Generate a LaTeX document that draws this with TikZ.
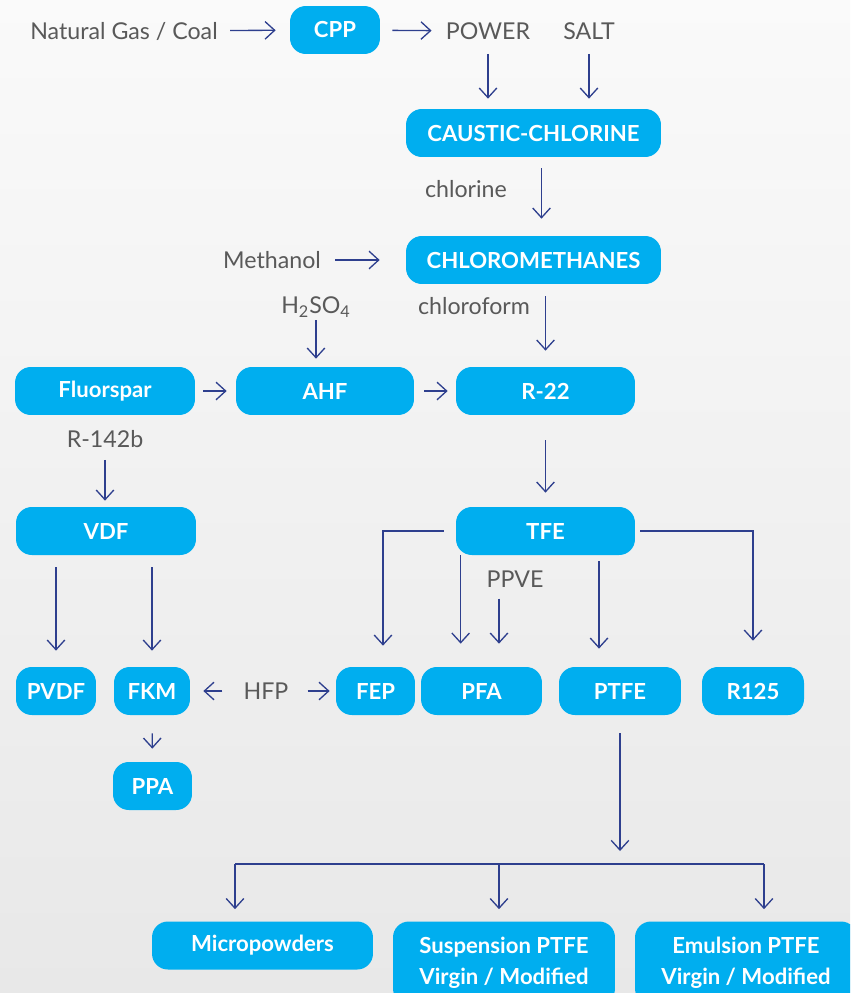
\documentclass[tikz,border=0pt]{standalone}
\usepackage{fontspec}
\setmainfont{Lato}
\usetikzlibrary{arrows.meta}
\definecolor{boxblue}{HTML}{00AEEF}
\definecolor{arrowblue}{HTML}{2E3F8E}
\definecolor{labelgray}{HTML}{595959}

\begin{document}
\begin{tikzpicture}[x=0.02cm, y=-0.02cm,
  box/.style={fill=boxblue, rounded corners=9pt, text=white, inner sep=0pt,
    minimum height=0.96cm, font=\fontsize{12.6}{17.6}\selectfont\bfseries},
  lbl/.style={text=labelgray, inner sep=0pt, font=\fontsize{13.2}{15}\selectfont},
  arr/.style={draw=arrowblue, line width=0.75pt, -{Straight Barb[length=5.5pt,width=10pt]}},
  bar/.style={draw=arrowblue, line width=0.75pt}]
\useasboundingbox (0,0) rectangle (850,993);
\clip (0,0) rectangle (850,993);
\shade[top color=black!2, bottom color=black!9] (0,0) rectangle (850,993);

\node[lbl] (nat) at (124,31) {Natural Gas / Coal};
\node[box, minimum width=1.8cm] (cpp) at (335,30) {CPP};
\node[lbl] (power) at (488,31) {POWER};
\node[lbl] (salt) at (589,31) {SALT};
\node[box, minimum width=5.1cm] (caustic) at (533.5,133) {CAUSTIC-CHLORINE};
\node[lbl] (chlorine) at (466,189) {chlorine};
\node[lbl] (methanol) at (272,260) {Methanol};
\node[box, minimum width=5.1cm] (chloro) at (533.5,260) {CHLOROMETHANES};
\node[lbl] (h2so4) at (316,307) {H\textsubscript{2}SO\textsubscript{4}};
\node[lbl] (chloroform) at (474,306) {chloroform};
\node[box, minimum width=3.6cm] (fluor) at (105,391) {Fluorspar};
\node[box, minimum width=3.56cm] (ahf) at (325,391) {AHF};
\node[box, minimum width=3.58cm] (r22) at (545.5,391) {R-22};
\node[lbl] (r142b) at (105,439) {R-142b};
\node[box, minimum width=3.6cm] (vdf) at (106,531) {VDF};
\node[box, minimum width=3.58cm] (tfe) at (545.5,531) {TFE};
\node[lbl] (ppve) at (515,579) {PPVE};
\node[box, minimum width=1.6cm] (pvdf) at (56,691) {PVDF};
\node[box, minimum width=1.52cm] (fkm) at (152,691) {FKM};
\node[lbl] (hfp) at (266,691) {HFP};
\node[box, minimum width=1.58cm] (fep) at (375.5,691) {FEP};
\node[box, minimum width=2.42cm] (pfa) at (481.5,691) {PFA};
\node[box, minimum width=2.44cm] (ptfe) at (620,691) {PTFE};
\node[box, minimum width=2.04cm] (r125) at (753,691) {R125};
\node[box, minimum width=1.58cm] (ppa) at (152.5,786) {PPA};
\node[box, minimum width=4.42cm] (micro) at (262.5,945.5) {Micropowders};
\node[box, minimum width=4.44cm, minimum height=1.66cm, align=center] (susp) at (504,963) {Suspension PTFE\\Virgin / Modified};
\node[box, minimum width=4.44cm, minimum height=1.66cm, align=center] (emul) at (746,963) {Emulsion PTFE\\Virgin / Modified};
\coordinate (split) at (620,864);
\coordinate (bl) at (235,864);
\coordinate (bm) at (499,864);
\coordinate (br) at (764,864);

\draw[arr, shorten <=0.24cm, shorten >=0.28cm] (nat) -- (cpp);
\draw[arr, shorten <=0.24cm, shorten >=0.28cm] (cpp) -- (power);
\draw[arr, shorten <=0.28cm, shorten >=0.2cm] (power) -- (power |- caustic.north);
\draw[arr, shorten <=0.28cm, shorten >=0.2cm] (salt) -- (salt |- caustic.north);
\draw[arr, shorten <=0.22cm, shorten >=0.34cm] ([xshift=0.16cm]caustic.south) -- ([xshift=0.16cm]chloro.north);
\draw[arr, shorten <=0.28cm, shorten >=0.52cm] (methanol) -- (chloro);
\draw[arr, shorten <=0.04cm, shorten >=0.16cm] (h2so4) -- (h2so4 |- ahf.north);
\draw[arr, shorten <=0.24cm, shorten >=0.32cm] (r22 |- chloro.south) -- (r22.north);
\draw[arr, shorten <=0.16cm, shorten >=0.18cm] (fluor) -- (ahf);
\draw[arr, shorten <=0.2cm, shorten >=0.16cm] (ahf) -- (r22);
\draw[arr, shorten <=0.24cm, shorten >=0.12cm] (r142b) -- (r142b |- vdf.north);
\draw[arr, shorten <=0.5cm, shorten >=0.28cm] (r22) -- (tfe);
\draw[arr, shorten <=0.24cm, shorten >=0.42cm] (tfe.west) -| ([xshift=0.15cm]fep.north);
\draw[arr, shorten >=0.46cm] ([xshift=0.1cm]tfe.south west) -- ([xshift=0.1cm]tfe.south west |- pfa.north);
\draw[arr, shorten <=0.22cm, shorten >=0.46cm] ([xshift=-0.32cm]ppve.south) -- ([xshift=-0.32cm]ppve.south |- pfa.north);
\draw[arr, shorten <=0.12cm, shorten >=0.36cm] ([xshift=-0.42cm]ptfe.north |- tfe.south) -- ([xshift=-0.42cm]ptfe.north);
\draw[arr, shorten <=0.1cm, shorten >=0.52cm] (tfe.east) -| (r125.north);
\draw[arr, shorten <=0.24cm, shorten >=0.32cm] (pvdf |- vdf.south) -- (pvdf.north);
\draw[arr, shorten <=0.24cm, shorten >=0.32cm] (fkm |- vdf.south) -- (fkm.north);
\draw[arr, shorten <=0.42cm, shorten >=0.26cm] (hfp) -- (fkm);
\draw[arr, shorten <=0.38cm, shorten >=0.12cm] (hfp) -- (fep);
\draw[arr, shorten <=0.36cm, shorten >=0.26cm] (fkm) -- (ppa);
\draw[arr, shorten <=0.36cm, shorten >=0.26cm] (ptfe) -- (split);
\draw[bar] (bl) -- (br);
\draw[arr, shorten >=0.24cm] (bl) -- (bl |- micro.north);
\draw[arr, shorten >=0.24cm] (bm) -- (bm |- susp.north);
\draw[arr, shorten >=0.24cm] (br) -- (br |- emul.north);
\end{tikzpicture}
\end{document}
